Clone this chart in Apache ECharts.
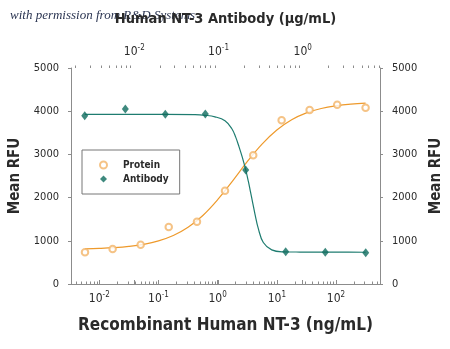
<!DOCTYPE html>
<html><head><meta charset="utf-8">
<script src="https://cdn.jsdelivr.net/npm/echarts@6/dist/echarts.min.js"></script>
<style>html,body{margin:0;padding:0;background:#fff}#c{width:450px;height:349px}</style>
</head><body><div id="c"></div>
<script>
// Protein (bottom axis, ng/mL)
const proteinConc = [0.00573, 0.0168, 0.05, 0.149, 0.447, 1.33, 3.99, 12.05, 35.8, 104.7, 316];
const proteinRFU  = [734, 810, 910, 1319, 1442, 2160, 2979, 3789, 4028, 4150, 4081];
// Antibody (top axis, ug/mL)
const antibodyConc = [0.002576, 0.00782, 0.02334, 0.0697, 0.2104, 0.628, 1.854, 5.6];
const antibodyRFU  = [3896, 4051, 3928, 3935, 2639, 748, 734, 725];
// Fitted curves
const proteinFitConc = [0.00573, 0.01, 0.0178, 0.0316, 0.0562, 0.1, 0.178, 0.316, 0.562, 1, 1.78, 3.16, 5.62, 10, 17.8, 31.6, 56.2, 100, 178, 316];
const proteinFitRFU  = [815, 825, 842, 871, 919, 997, 1121, 1312, 1587, 1952, 2383, 2832, 3239, 3565, 3802, 3961, 4062, 4125, 4164, 4187];
const antibodyFitConc = [0.002576, 0.00776, 0.02317, 0.0526, 0.0692, 0.0908, 0.1194, 0.1435, 0.16, 0.175, 0.1919, 0.2104, 0.2259, 0.2388, 0.2547, 0.271, 0.2972, 0.3405, 0.4285, 0.5888, 0.929, 2.773, 5.598];
const antibodyFitRFU  = [3925, 3925, 3925, 3920, 3905, 3870, 3780, 3600, 3400, 3180, 2930, 2640, 2380, 2150, 1880, 1620, 1280, 960, 790, 745, 740, 737, 735];
// Axes
const yTickValues = [0, 1000, 2000, 3000, 4000, 5000];
const bottomExponents = ['-2', '-1', '0', '1', '2'];
const topExponents = ['-2', '-1', '0'];
const bottomMinorTicks = [0.004,0.005,0.006,0.007,0.008,0.009,0.02,0.03,0.04,0.05,0.06,0.07,0.08,0.09,0.2,0.3,0.4,0.5,0.6,0.7,0.8,0.9,2,3,4,5,6,7,8,9,20,30,40,50,60,70,80,90,200,300,400,500];
const topMinorTicks = [0.002,0.003,0.004,0.005,0.006,0.007,0.008,0.009,0.02,0.03,0.04,0.05,0.06,0.07,0.08,0.09,0.2,0.3,0.4,0.5,0.6,0.7,0.8,0.9,2,3,4,5,6,7,8];

const FONT = "'Liberation Sans Narrow','DejaVu Sans Condensed','Open Sans',sans-serif";
const TXT = '#2a2a2a';
const AX = '#8c8c8c';
const ORANGE = '#EE9A2C';
const ORANGE_PT = '#F3B468';
const TEAL = '#1E7C70';
const TEAL_PT = '#0E6B5E';

function logLabel(exps) {
  return function (v) {
    const e = Math.log10(v);
    const r = Math.round(e);
    if (Math.abs(e - r) > 1e-6) return '';
    const s = String(r);
    if (exps.indexOf(s) < 0) return '';
    return '{b|10}{s|' + s + '}';
  };
}
const richLbl = {
  b: { fontSize: 12, fontFamily: FONT, color: TXT },
  s: { fontSize: 8, fontFamily: FONT, color: TXT, padding: [0, 0, 8, 0] }
};

function minorTicks(xIdx, vals, yVal, len) {
  return {
    type: 'custom', xAxisIndex: xIdx, yAxisIndex: 0, silent: true, clip: false, z: 5,
    data: vals.map(v => [v, yVal]),
    encode: { x: 0, y: 1 },
    renderItem: function (params, api) {
      const p = api.coord([api.value(0), api.value(1)]);
      const x = Math.round(p[0]) + 0.5;
      return { type: 'line', shape: { x1: x, y1: p[1], x2: x, y2: p[1] + len }, style: { stroke: AX, lineWidth: 1 } };
    }
  };
}

const chart = echarts.init(document.getElementById('c'), null, { renderer: 'canvas' });
const yAxisBase = {
  type: 'value', min: 0, max: 5000, interval: 1000,
  axisLine: { show: true, lineStyle: { color: AX, width: 1 } },
  axisTick: { show: true, inside: false, length: 3, lineStyle: { color: AX } },
  splitLine: { show: false },
  axisLabel: { fontSize: 11, fontFamily: FONT, color: TXT, margin: 12,
    formatter: v => (yTickValues.indexOf(v) >= 0 ? String(v) : '') },
  nameLocation: 'middle', nameRotate: 90,
  nameTextStyle: { fontSize: 15, fontWeight: 'bold', fontFamily: FONT, color: TXT }
};

chart.setOption({
  animation: false,
  backgroundColor: '#fff',
  grid: { left: 71, right: 70, top: 68, bottom: 65, containLabel: false, outerBoundsMode: 'none' },
  graphic: [{
    type: 'text', left: 10, top: 9, z: -1,
    style: { text: 'with permission from R&D Systems', font: "italic 13px 'Liberation Serif'", fill: '#2b3552' }
  }],
  legend: {
    data: [{ name: 'Protein', icon: 'emptyCircle' }, { name: 'Antibody', icon: 'diamond' }],
    orient: 'vertical', left: 82, top: 150, padding: [9, 11, 9, 17],
    itemWidth: 7, itemHeight: 7, itemGap: 2,
    borderColor: '#777', borderWidth: 1, borderRadius: 0, backgroundColor: '#fff',
    selectedMode: false,
    textStyle: { fontSize: 10, fontWeight: 'bold', fontFamily: FONT, color: TXT, padding: [0, 0, 0, 11], lineHeight: 12 }
  },
  xAxis: [{
    type: 'log', position: 'bottom', min: 0.003324, max: 553.6, splitNumber: 4,
    axisLine: { show: true, lineStyle: { color: AX } },
    axisTick: { show: true, inside: true, length: 4, lineStyle: { color: AX } },
    splitLine: { show: false }, minorTick: { show: false },
    axisLabel: { showMinLabel: false, showMaxLabel: false, margin: 7, formatter: logLabel(bottomExponents), rich: richLbl },
    name: 'Recombinant Human NT-3 (ng/mL)', nameLocation: 'middle', nameGap: 33,
    nameTextStyle: { fontSize: 17, fontWeight: 'bold', fontFamily: FONT, color: TXT }
  }, {
    type: 'log', position: 'top', min: 0.00177, max: 8.28, splitNumber: 4,
    axisLine: { show: true, lineStyle: { color: AX } },
    axisTick: { show: true, inside: false, length: 4, lineStyle: { color: AX } },
    splitLine: { show: false }, minorTick: { show: false },
    axisLabel: { showMinLabel: false, showMaxLabel: false, margin: 8, formatter: logLabel(topExponents), rich: richLbl },
    name: 'Human NT-3 Antibody (\u03bcg/mL)', nameLocation: 'middle', nameGap: 41,
    nameTextStyle: { fontSize: 14.5, fontWeight: 'bold', fontFamily: FONT, color: TXT }
  }],
  yAxis: [
    Object.assign({}, yAxisBase, { position: 'left', name: 'Mean RFU', nameGap: 46 }),
    Object.assign({}, yAxisBase, { position: 'right', name: 'Mean RFU', nameGap: 49 })
  ],
  series: [
    {
      name: 'Protein fit', type: 'line', xAxisIndex: 0, yAxisIndex: 0, showSymbol: false, symbol: 'none',
      smooth: 0.4, silent: true, z: 2,
      lineStyle: { color: ORANGE, width: 1.2 },
      data: proteinFitConc.map((c, i) => [c, proteinFitRFU[i]])
    },
    {
      name: 'Antibody fit', type: 'line', xAxisIndex: 1, yAxisIndex: 0, showSymbol: false, symbol: 'none',
      smooth: 0.4, silent: true, z: 2,
      lineStyle: { color: TEAL, width: 1.2 },
      data: antibodyFitConc.map((c, i) => [c, antibodyFitRFU[i]])
    },
    {
      name: 'Protein', type: 'scatter', xAxisIndex: 0, yAxisIndex: 0, z: 4,
      symbol: 'emptyCircle', symbolSize: 6.5,
      itemStyle: { color: ORANGE_PT, borderColor: ORANGE_PT, borderWidth: 1 },
      data: proteinConc.map((c, i) => [c, proteinRFU[i]])
    },
    {
      name: 'Antibody', type: 'scatter', xAxisIndex: 1, yAxisIndex: 0, z: 4,
      symbol: 'diamond', symbolSize: [7, 9],
      itemStyle: { color: TEAL_PT },
      data: antibodyConc.map((c, i) => [c, antibodyRFU[i]])
    },
    minorTicks(0, bottomMinorTicks, 0, -2.5),
    minorTicks(1, topMinorTicks, 5000, -2.5)
  ]
});
</script></body></html>
